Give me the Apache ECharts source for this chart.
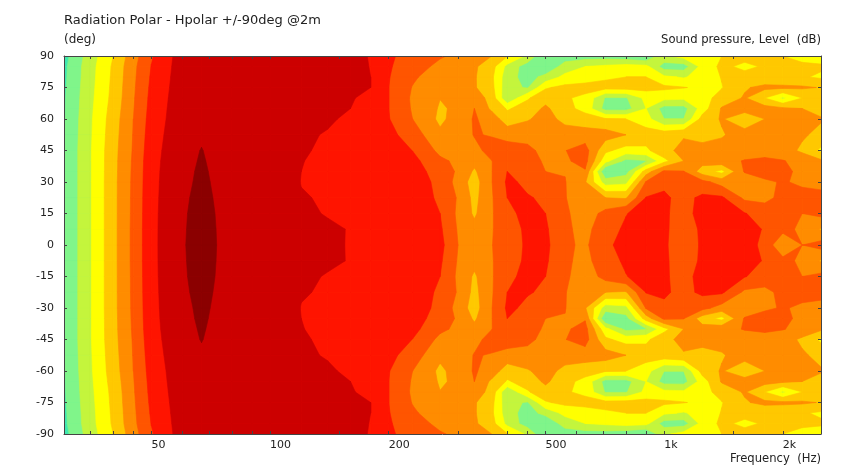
<!DOCTYPE html>
<html>
<head>
<meta charset="utf-8">
<style>html,body{margin:0;padding:0;background:#fff}#c{width:848px;height:469px}</style>
<script src="https://cdn.jsdelivr.net/npm/echarts@6/dist/echarts.min.js"></script>
</head>
<body>
<div id="c"></div>
<script>
// Frequencies (Hz) of each column
const frequencies = [30,35,40,45,50,60,67,80,90,100,120,140,160,180,200,230,270,300,330,365,400,450,500,560,630,710,800,900,1000,1120,1250,1400,1600,1800,2000,2240,2500];
// Angles (deg) of the rows read from the upper half; the lower half mirrors them
const angles = [0,7.5,15,22.5,30,35,40,45,52.5,60,65,70,75,80,85,90];
// Level readings per angle, in colour-band steps
const level0 = [1,2.92,4.7,6.25,7.75,8.95,9.25,8.75,8.5,8.4,8.3,8.15,7.95,7.8,7.65,7.4,7.3,6.0,5.4,5.97,6.5,7.15,7.25,6.15,5.85,6.7,7.5,7.7,7.05,6.8,7.05,7.6,7.5,6.7,5.1,6.0,6.4];
const level7 = [1,2.92,4.7,6.25,7.75,8.94,9.23,8.75,8.5,8.38,8.28,8.1,7.97,7.85,7.75,7.4,7.15,5.9,5.3,5.95,6.4,7.25,7.15,6.15,5.75,6.5,7.2,7.6,7.1,6.7,7.1,7.6,7.5,6.9,6.3,5.8,4.9];
const level15 = [1,2.92,4.7,6.23,7.74,8.93,9.2,8.75,8.48,8.35,8.12,7.96,7.93,7.88,7.8,7.5,7.0,5.8,4.85,5.9,6.75,7.3,7.0,6.2,5.4,6.35,6.95,7.5,7.15,6.6,7.4,7.5,7.05,6.6,6.1,6.0,6.3];
const level22 = [1,2.92,4.7,6.22,7.72,8.91,9.15,8.75,8.45,8.3,8.02,7.97,7.96,7.96,7.95,7.5,6.85,5.9,4.7,5.9,7.0,7.05,6.9,6.05,5.4,5.0,4.9,7.05,7.15,6.7,7.2,7.15,5.8,5.7,6.3,6.4,6.4];
const level30 = [1,2.92,4.7,6.2,7.7,8.88,9.1,8.75,8.45,8.3,7.99,7.96,7.96,7.96,7.95,7.4,6.8,5.6,4.55,5.97,7.15,6.85,6.4,6.05,5.1,2.5,2.7,6.1,6.8,6.75,6.3,5.6,5.2,5.8,6.1,5.8,5.6];
const level35 = [1,2.92,4.68,6.18,7.68,8.86,9.08,8.72,8.45,8.3,8.0,7.93,7.92,7.92,7.9,7.4,6.6,5.85,4.85,5.97,7.0,6.5,6.0,5.95,5.9,0.95,1.6,4.5,6.2,6.05,4.5,3.7,6.1,6.5,6.2,5.8,5.6];
const level40 = [1,2.92,4.67,6.15,7.65,8.83,9.05,8.7,8.45,8.3,8.01,7.93,7.88,7.85,7.8,7.3,6.2,5.8,5.3,5.98,6.6,6.3,5.9,5.85,6.35,3.3,1.7,1.9,3.7,5.0,5.4,5.7,6.05,6.2,6.05,5.7,5.2];
const level45 = [1,2.92,4.65,6.1,7.6,8.8,9.02,8.65,8.45,8.3,8.05,7.92,7.85,7.75,7.65,6.98,5.75,5.55,5.75,6.3,6.4,6.2,5.75,5.97,6.4,4.2,3.6,3.8,4.7,5.3,5.4,5.4,5.6,5.6,5.5,4.8,3.8];
const level52 = [0.97,2.88,4.58,6.05,7.5,8.75,8.92,8.55,8.45,8.35,8.18,7.92,7.7,7.52,7.3,6.5,5.2,5.5,6.05,5.95,5.7,5.7,5.6,5.5,5.5,5.45,5.0,4.5,4.6,4.9,4.6,4.9,5.5,5.6,5.5,5.15,4.7];
const level60 = [0.93,2.85,4.5,6.0,7.4,8.68,8.82,8.55,8.45,8.4,8.3,8.15,7.8,7.36,7.05,6.0,4.8,5.4,6.1,5.6,4.4,4.9,5.4,4.7,4.4,4.1,4.0,3.4,2.0,2.0,4.4,5.1,4.2,5.0,5.4,5.3,5.1];
const level65 = [0.9,2.8,4.4,5.95,7.33,8.66,8.75,8.52,8.45,8.4,8.3,8.18,8.0,7.46,7.0,5.9,4.9,5.15,6.0,4.8,3.9,4.4,5.2,4.3,3.7,1.6,1.6,3.0,1.6,1.6,3.5,5.1,5.5,5.4,5.2,5.0,4.6];
const level70 = [0.88,2.75,4.3,5.9,7.27,8.62,8.68,8.5,8.42,8.38,8.3,8.22,8.12,7.62,7.0,5.85,5.02,5.1,5.6,4.6,2.1,3.9,4.6,4.1,3.8,1.9,1.9,3.3,3.3,3.2,3.6,4.4,5.1,4.0,2.8,4.0,4.4];
const level75 = [0.85,2.7,4.25,5.85,7.2,8.58,8.6,8.47,8.4,8.35,8.3,8.2,8.1,8.0,7.0,5.95,5.35,5.2,5.1,4.3,2.3,1.9,3.9,4.25,4.3,4.35,4.4,4.35,4.2,4.05,3.8,3.95,4.9,5.25,5.2,5.15,4.95];
const level80 = [0.8,2.65,4.2,5.8,7.12,8.55,8.55,8.45,8.38,8.32,8.28,8.2,8.1,8.0,7.05,6.15,5.45,5.25,5.1,4.2,2.4,1.6,2.3,3.3,3.6,3.85,4.0,4.0,3.2,2.9,3.4,4.05,4.3,4.3,4.3,4.1,3.85];
const level85 = [0.77,2.62,4.15,5.75,7.03,8.52,8.52,8.42,8.35,8.3,8.25,8.2,8.1,7.99,7.1,6.45,5.75,5.45,5.15,4.4,2.7,1.5,1.2,2.4,3.0,3.2,3.4,3.3,1.5,1.5,3.4,4.2,3.8,4.1,4.3,4.2,4.15];
const level90 = [0.65,2.5,4.0,5.6,6.9,8.5,8.5,8.4,8.35,8.3,8.25,8.2,8.1,7.98,7.1,6.75,6.1,5.8,5.4,5.0,4.05,2.8,0.95,1.5,1.5,1.5,1.3,0.9,2.8,3.4,3.7,4.0,4.3,4.2,4.0,3.7,3.5];
// One colour per band, lowest first
const bandColors = ['#3fe8b0','#80f58a','#c4f53c','#ffff00','#ffc800','#ff8c00','#ff5500','#ff1400','#cc0000','#8b0000'];
// Tick marks and labels of the frequency axis
const freqTicks = [35,40,45,50,60,70,80,90,100,150,200,300,400,450,500,600,700,800,900,1000,1500,2000];
const freqLabels = [50,100,200,500,1000,2000];

const upper = [level0,level7,level15,level22,level30,level35,level40,level45,level52,level60,level65,level70,level75,level80,level85,level90];
// full grid from -90 to +90
const rowAngles = [], rowLevels = [];
for (let i = upper.length - 1; i > 0; i--) { rowAngles.push(-angles[i]); rowLevels.push(upper[i]); }
for (let i = 0; i < upper.length; i++) { rowAngles.push(angles[i]); rowLevels.push(upper[i]); }

function clipAbove(pts, vals, t) {
  const out = [];
  for (let i = 0; i < pts.length; i++) {
    const j = (i + 1) % pts.length, a = vals[i], b = vals[j];
    if (a >= t) out.push(pts[i]);
    if ((a >= t) !== (b >= t)) {
      const f = (t - a) / (b - a);
      out.push([pts[i][0] + f * (pts[j][0] - pts[i][0]), pts[i][1] + f * (pts[j][1] - pts[i][1])]);
    }
  }
  return out;
}
// One mark per colour band: everything at or above that band, painted lowest band first.
function renderBand(params, api) {
  const k = api.value(0);
  const color = bandColors[k];
  const children = [];
  for (let r = 0; r < rowAngles.length - 1; r++) {
    for (let c = 0; c < frequencies.length - 1; c++) {
      const vals = [rowLevels[r][c], rowLevels[r][c + 1], rowLevels[r + 1][c + 1], rowLevels[r + 1][c]];
      if (k > 0 && Math.max.apply(null, vals) < k) continue;
      const pts = [
        api.coord([frequencies[c], rowAngles[r]]),
        api.coord([frequencies[c + 1], rowAngles[r]]),
        api.coord([frequencies[c + 1], rowAngles[r + 1]]),
        api.coord([frequencies[c], rowAngles[r + 1]])
      ];
      const p = k > 0 ? clipAbove(pts, vals, k) : pts;
      if (p.length > 2) children.push({ type: 'polygon', shape: { points: p }, silent: true,
        style: { fill: color, stroke: color, lineWidth: 0.6, lineJoin: 'round' } });
    }
  }
  return { type: 'group', children };
}

const textColor = '#222';
const font = 'DejaVu Sans';
const axisLine = { show: true, onZero: false, lineStyle: { color: '#444', width: 1 } };
const tickStyle = { color: '#444', width: 1 };
const titleStyle = size => ({ color: textColor, fontFamily: font, fontSize: size, fontWeight: 'normal' });

const chart = echarts.init(document.getElementById('c'), null, { renderer: 'canvas' });
chart.setOption({
  animation: false,
  backgroundColor: '#fff',
  title: [
    { text: 'Radiation Polar - Hpolar +/-90deg @2m', left: 64, top: 14, padding: 0, textStyle: titleStyle(13) },
    { text: '(deg)', left: 64, top: 34, padding: 0, textStyle: titleStyle(12) },
    { text: 'Sound pressure, Level  (dB)', right: 27, top: 34, padding: 0, textStyle: titleStyle(11.6) },
    { text: 'Frequency  (Hz)', right: 27, top: 453, padding: 0, textStyle: titleStyle(11.6) }
  ],
  grid: { left: 64, top: 56, width: 757, height: 378, containLabel: false },
  xAxis: [
    { type: 'log', logBase: 10, min: 30, max: 2500, position: 'bottom', z: 5,
      axisLine, splitLine: { show: false }, minorTick: { show: false },
      axisTick: { show: true, inside: true, length: 3, lineStyle: tickStyle, customValues: freqTicks },
      axisLabel: { show: true, customValues: freqLabels, align: 'left', margin: 6, color: textColor, fontFamily: font, fontSize: 11,
        formatter: v => v >= 1000 ? (v / 1000) + 'k' : String(v) } },
    { type: 'log', logBase: 10, min: 30, max: 2500, position: 'top', z: 5,
      axisLine, splitLine: { show: false }, minorTick: { show: false },
      axisTick: { show: true, inside: true, length: 3, lineStyle: tickStyle, customValues: freqTicks },
      axisLabel: { show: false } }
  ],
  yAxis: [
    { type: 'value', min: -90, max: 90, interval: 15, position: 'left', z: 5,
      axisLine, splitLine: { show: false },
      axisTick: { show: true, inside: true, length: 3, lineStyle: tickStyle },
      axisLabel: { show: true, margin: 10, color: textColor, fontFamily: font, fontSize: 11 } },
    { type: 'value', min: -90, max: 90, interval: 15, position: 'right', z: 5,
      axisLine, splitLine: { show: false },
      axisTick: { show: true, inside: true, length: 3, lineStyle: tickStyle },
      axisLabel: { show: false } }
  ],
  series: [{
    type: 'custom', coordinateSystem: 'cartesian2d', xAxisIndex: 0, yAxisIndex: 0,
    clip: true, silent: true, z: 2, progressive: 0,
    renderItem: renderBand, data: bandColors.map((_, k) => [k]), encode: { x: [], y: [] }
  }]
});
</script>
</body>
</html>
